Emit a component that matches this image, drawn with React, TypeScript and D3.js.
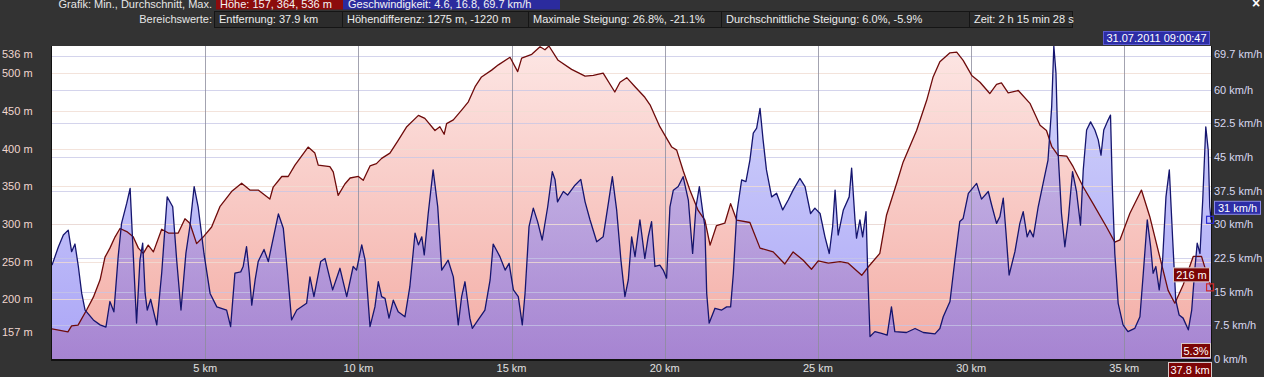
import React from "react";
import * as d3 from "d3";

// ---------- DATA ----------
const elevKm = [
  0, 0.52, 0.64, 0.85, 1.13, 1.35, 1.57, 1.73, 1.89, 2.06,
  2.22, 2.44, 2.65, 2.82, 2.98, 3.14, 3.31, 3.58, 3.80, 4.12,
  4.34, 4.50, 4.72, 4.94, 5.21, 5.48, 5.86, 6.19, 6.46, 6.73,
  7.11, 7.22, 7.50, 7.71, 7.93, 8.36, 8.58, 8.69, 9.07, 9.18,
  9.34, 9.56, 9.73, 10.00, 10.16, 10.38, 10.59, 10.76, 11.03, 11.30,
  11.58, 11.96, 12.17, 12.50, 12.66, 12.80, 12.88, 13.10, 13.37, 13.59,
  13.81, 14.02, 14.35, 14.57, 14.95, 15.20, 15.33, 15.66, 15.93, 16.09,
  16.22, 16.52, 16.96, 17.40, 17.67, 17.99, 18.37, 18.54, 18.76, 19.03,
  19.35, 19.52, 19.84, 20.23, 20.39, 20.60, 20.82, 21.09, 21.31, 21.48,
  21.69, 21.96, 22.15, 22.35, 22.78, 23.11, 23.54, 23.92, 24.19, 24.52,
  24.79, 25.01, 25.34, 25.72, 25.99, 26.43, 26.64, 27.02, 27.24, 27.57,
  27.78, 28.22, 28.55, 28.76, 28.98, 29.31, 29.53, 29.74, 30.02, 30.29,
  30.61, 30.83, 30.99, 31.21, 31.54, 31.92, 32.25, 32.46, 32.63, 32.84,
  33.12, 33.33, 33.66, 33.98, 34.42, 34.69, 34.86, 35.18, 35.56, 35.83,
  36.16, 36.43, 36.65, 36.92, 37.25, 37.52, 37.83,
];
const elevM = [
  161, 157, 165, 166, 186, 203, 226, 256, 268, 283,
  294, 290, 283, 268, 261, 272, 263, 293, 288, 288,
  307, 301, 274, 283, 296, 323, 343, 354, 345, 345,
  333, 349, 363, 363, 378, 402, 394, 378, 376, 369,
  338, 353, 361, 363, 358, 377, 380, 387, 394, 411,
  429, 444, 440, 424, 429, 419, 433, 438, 451, 462,
  482, 495, 504, 511, 521, 502, 520, 525, 535, 531,
  536, 517, 505, 496, 497, 500, 475, 488, 494, 482,
  468, 458, 429, 402, 398, 371, 345, 318, 305, 272,
  298, 301, 327, 305, 302, 268, 263, 247, 263, 252,
  240, 251, 248, 250, 248, 232, 243, 261, 312, 354,
  382, 424, 464, 495, 515, 527, 528, 517, 497, 488,
  473, 485, 487, 474, 477, 460, 431, 424, 403, 391,
  390, 376, 349, 327, 296, 276, 279, 314, 345, 310,
  256, 212, 195, 219, 257, 257, 216,
];
const speedKm = [
  0, 0.21, 0.37, 0.53, 0.64, 0.75, 0.86, 0.97, 1.08, 1.35,
  1.57, 1.76, 1.89, 2.02, 2.16, 2.27, 2.44, 2.55, 2.63, 2.76,
  2.87, 2.96, 3.04, 3.11, 3.22, 3.42, 3.58, 3.76, 3.94, 4.07,
  4.21, 4.37, 4.50, 4.64, 4.77, 4.96, 5.16, 5.38, 5.70, 5.83,
  5.97, 6.16, 6.24, 6.35, 6.44, 6.52, 6.63, 6.73, 6.92, 7.06,
  7.39, 7.55, 7.68, 7.82, 7.99, 8.31, 8.42, 8.55, 8.77, 8.91,
  9.16, 9.40, 9.62, 9.83, 9.94, 10.11, 10.22, 10.38, 10.54, 10.65,
  10.76, 10.87, 11.00, 11.14, 11.30, 11.52, 11.68, 11.85, 11.96, 12.07,
  12.15, 12.28, 12.44, 12.59, 12.72, 12.93, 13.10, 13.26, 13.37, 13.48,
  13.64, 13.72, 13.91, 14.13, 14.30, 14.40, 14.62, 14.79, 14.92, 15.06,
  15.22, 15.35, 15.44, 15.57, 15.71, 15.85, 16.00, 16.18, 16.33, 16.42,
  16.50, 16.69, 16.83, 17.07, 17.26, 17.40, 17.56, 17.78, 17.99, 18.16,
  18.29, 18.43, 18.57, 18.70, 18.81, 18.92, 19.03, 19.19, 19.35, 19.46,
  19.57, 19.68, 19.84, 19.95, 20.06, 20.17, 20.28, 20.44, 20.60, 20.77,
  20.91, 21.02, 21.13, 21.24, 21.31, 21.37, 21.45, 21.64, 21.86, 22.02,
  22.15, 22.24, 22.35, 22.51, 22.65, 22.78, 22.89, 23.00, 23.11, 23.21,
  23.32, 23.49, 23.65, 23.85, 24.03, 24.19, 24.41, 24.58, 24.76, 24.90,
  25.07, 25.23, 25.37, 25.48, 25.56, 25.66, 25.83, 26.02, 26.10, 26.21,
  26.26, 26.37, 26.46, 26.57, 26.62, 26.70, 26.86, 27.08, 27.26, 27.40,
  27.51, 27.89, 28.17, 28.44, 28.82, 28.98, 29.09, 29.31, 29.47, 29.63,
  29.74, 29.91, 30.18, 30.34, 30.56, 30.67, 30.83, 30.94, 31.05, 31.14,
  31.24, 31.43, 31.59, 31.70, 31.83, 31.92, 32.03, 32.19, 32.35, 32.51,
  32.63, 32.70, 32.77, 32.84, 32.95, 33.06, 33.17, 33.31, 33.44, 33.57,
  33.66, 33.77, 33.90, 34.04, 34.15, 34.24, 34.33, 34.47, 34.55, 34.61,
  34.69, 34.80, 34.96, 35.12, 35.34, 35.51, 35.62, 35.75, 35.86, 35.94,
  36.03, 36.14, 36.25, 36.36, 36.47, 36.58, 36.68, 36.79, 36.92, 37.09,
  37.20, 37.30, 37.38, 37.47, 37.56, 37.66, 37.74, 37.79, 37.83,
];
const speedKmh = [
  20.9, 25.0, 27.6, 28.7, 23.9, 25.6, 20.6, 14.6, 10.9, 8.7,
  7.6, 7.1, 12.8, 10.5, 22.8, 30.2, 34.7, 38.0, 26.5, 8.0,
  22.0, 25.8, 14.6, 10.9, 13.3, 7.6, 19.1, 36.1, 33.9, 22.0,
  10.9, 23.5, 29.5, 38.4, 33.9, 23.5, 14.6, 11.6, 10.9, 7.2,
  19.1, 19.4, 20.6, 25.0, 19.1, 12.0, 17.6, 21.7, 24.4, 21.7,
  32.3, 29.1, 19.8, 8.7, 10.9, 12.4, 18.3, 13.9, 21.7, 22.4,
  15.4, 20.2, 13.9, 20.6, 19.8, 25.4, 22.0, 7.2, 11.6, 17.2,
  13.9, 13.5, 9.1, 13.1, 10.5, 9.4, 16.1, 28.0, 25.4, 27.2,
  23.2, 32.4, 42.1, 33.9, 19.8, 22.0, 18.3, 7.6, 13.9, 17.2,
  9.1, 6.8, 8.7, 10.9, 17.6, 25.6, 22.8, 19.8, 21.3, 15.4,
  13.9, 7.6, 14.6, 29.5, 33.6, 30.6, 26.5, 33.9, 41.7, 39.9,
  35.0, 37.3, 36.5, 38.7, 40.0, 35.0, 31.0, 26.1, 27.2, 34.7,
  40.6, 33.2, 22.0, 13.9, 17.6, 27.2, 22.8, 31.0, 22.4, 27.2,
  30.6, 20.6, 20.9, 19.8, 18.0, 33.9, 37.6, 38.4, 40.6, 35.4,
  23.5, 33.9, 38.4, 32.8, 29.5, 14.6, 8.0, 11.3, 10.9, 11.6,
  11.6, 19.1, 32.4, 39.9, 39.5, 44.3, 50.3, 51.4, 55.8, 48.8,
  42.1, 36.1, 36.9, 33.2, 35.4, 37.6, 40.2, 38.4, 32.4, 33.6,
  32.4, 27.2, 23.5, 29.5, 37.6, 27.6, 33.2, 36.1, 42.5, 31.0,
  26.9, 31.0, 27.2, 32.8, 20.6, 5.0, 6.1, 5.7, 5.3, 11.6,
  6.1, 5.9, 6.8, 5.9, 5.6, 6.8, 9.4, 12.8, 22.0, 30.6,
  31.3, 36.9, 39.1, 35.6, 37.3, 34.3, 30.2, 31.7, 35.8, 28.0,
  18.7, 23.9, 30.2, 32.8, 27.2, 28.7, 27.2, 33.9, 39.1, 44.3,
  56.2, 69.7, 63.6, 45.8, 32.4, 25.0, 31.0, 41.7, 37.3, 29.8,
  42.1, 51.0, 52.8, 51.0, 48.8, 45.4, 51.0, 53.2, 54.3, 38.4,
  23.5, 12.4, 7.6, 6.1, 6.8, 9.4, 19.1, 31.0, 25.0, 19.1,
  20.6, 15.4, 22.0, 36.1, 42.1, 26.5, 13.1, 9.8, 9.1, 6.5,
  10.9, 19.8, 25.8, 23.5, 35.4, 51.7, 46.5, 33.9, 31.0,
];

const elevTicks = [157, 200, 250, 300, 350, 400, 450, 500, 536];
const elevGrid = [200, 250, 300, 350, 400, 450, 500];
const speedTicks = [0, 7.5, 15, 22.5, 30, 37.5, 45, 52.5, 60, 69.7];
const speedGrid = [7.5, 15, 22.5, 30, 37.5, 45, 52.5, 60, 67.5];
const kmTicks = [5, 10, 15, 20, 25, 30, 35];

const headerTitle1 = "Grafik: Min., Durchschnitt, Max.";
const headerElev = "Höhe: 157, 364, 536 m";
const headerSpeed = "Geschwindigkeit: 4.6, 16.8, 69.7 km/h";
const headerTitle2 = "Bereichswerte:";
const rangeValues = [
  "Entfernung: 37.9 km",
  "Höhendifferenz: 1275 m, -1220 m",
  "Maximale Steigung: 26.8%, -21.1%",
  "Durchschnittliche Steigung: 6.0%, -5.9%",
  "Zeit: 2 h 15 min 28 s",
];
const cursorDate = "31.07.2011 09:00:47";
const cursorKm = 37.8;
const cursorElev = 216;
const cursorSpeed = 31;
const cursorGrade = "5.3%";

// ---------- LAYOUT ----------
const W = 1264;
const H = 377;
const L = 52;
const R = 1211;
const T = 46;
const B = 359;
const FONT = "'Liberation Sans', Arial, sans-serif";

export default function App() {
  const x = d3.scaleLinear().domain([0, 37.83]).range([L, R]);
  const yE = d3.scaleLinear().domain([121, 536]).range([B, T]);
  const yS = d3.scaleLinear().domain([0, 69.7]).range([B, T]);

  const elevData = d3.zip(elevKm, elevM) as [number, number][];
  const speedData = d3.zip(speedKm, speedKmh) as [number, number][];

  const elevArea = d3.area<[number, number]>().x((d) => x(d[0])).y0(B).y1((d) => yE(d[1]));
  const elevLine = d3.line<[number, number]>().x((d) => x(d[0])).y((d) => yE(d[1]));
  const speedArea = d3.area<[number, number]>().x((d) => x(d[0])).y0(B).y1((d) => yS(d[1]));
  const speedLine = d3.line<[number, number]>().x((d) => x(d[0])).y((d) => yS(d[1]));

  const boxX = [214, 342, 528, 721, 969, 1072];

  const clampY = (y: number) => Math.max(T + 8, Math.min(B + 1, y));

  return (
    <svg
      width={W}
      height={H}
      style={{ position: "absolute", left: 0, top: 0, display: "block" }}
      fontFamily={FONT}
    >
      <defs>
        <linearGradient id="elevGrad" gradientUnits="userSpaceOnUse" x1={0} y1={T} x2={0} y2={B}>
          <stop offset="0" stopColor="#fde6e4" />
          <stop offset="1" stopColor="#f3aca4" />
        </linearGradient>
        <linearGradient id="speedGrad" gradientUnits="userSpaceOnUse" x1={0} y1={T} x2={0} y2={B}>
          <stop offset="0" stopColor="#afb4f8" stopOpacity={0.55} />
          <stop offset="1" stopColor="#7369f0" stopOpacity={0.6} />
        </linearGradient>
        <clipPath id="plotClip">
          <rect x={L} y={T} width={R - L} height={B - T} />
        </clipPath>
      </defs>

      <rect x={0} y={0} width={W} height={H} fill="#333333" />

      {/* header row 1 */}
      <text x={212} y={8} fill="#e6e6e6" fontSize={11} textAnchor="end">{headerTitle1}</text>
      <rect x={216} y={-4} width={127} height={13.5} fill="#8c0c0c" />
      <text x={220} y={8} fill="#f4f4f4" fontSize={11}>{headerElev}</text>
      <rect x={343} y={-4} width={217} height={13.5} fill="#2b2b9e" />
      <text x={348} y={8} fill="#f4f4f4" fontSize={11}>{headerSpeed}</text>
      <text x={1256} y={8} fill="#ffffff" fontSize={14} fontWeight="bold" textAnchor="middle">×</text>

      {/* header row 2 */}
      <text x={212} y={23} fill="#e6e6e6" fontSize={11} textAnchor="end">{headerTitle2}</text>
      {rangeValues.map((t, i) => (
        <g key={t}>
          <rect
            x={boxX[i] + 0.5}
            y={11.5}
            width={boxX[i + 1] - boxX[i]}
            height={16}
            fill="#2c2c2c"
            stroke="#151515"
          />
          <text x={boxX[i] + 5} y={23} fill="#ececec" fontSize={11}>{t}</text>
        </g>
      ))}

      {/* plot background */}
      <rect x={L} y={T} width={R - L} height={B - T} fill="#ffffff" />

      <g clipPath="url(#plotClip)">
        <path d={elevArea(elevData) || ""} fill="url(#elevGrad)" />
        <path d={speedArea(speedData) || ""} fill="url(#speedGrad)" />

        {speedGrid.map((v) => (
          <line key={"sg" + v} x1={L} x2={R} y1={Math.round(yS(v)) + 0.5} y2={Math.round(yS(v)) + 0.5}
            stroke="#c6c6e6" strokeOpacity={0.75} />
        ))}
        {elevGrid.map((v) => (
          <line key={"eg" + v} x1={L} x2={R} y1={Math.round(yE(v)) + 0.5} y2={Math.round(yE(v)) + 0.5}
            stroke="#f0dcd2" strokeOpacity={0.8} />
        ))}
        {kmTicks.map((k) => (
          <line key={"vg" + k} x1={Math.round(x(k)) + 0.5} x2={Math.round(x(k)) + 0.5} y1={T} y2={B}
            stroke="#8c8c9c" strokeOpacity={0.8} />
        ))}

        <path d={elevLine(elevData) || ""} fill="none" stroke="#6e0b0b" strokeWidth={1.3} strokeLinejoin="round" />
        <path d={speedLine(speedData) || ""} fill="none" stroke="#15156e" strokeWidth={1.3} strokeLinejoin="round" />
      </g>

      {/* plot border */}
      <line x1={L - 0.5} x2={L - 0.5} y1={T} y2={B + 1} stroke="#111" />
      <line x1={R + 0.5} x2={R + 0.5} y1={T} y2={B + 1} stroke="#111" />
      <line x1={L - 1} x2={R + 1} y1={B + 1} y2={B + 1} stroke="#111" strokeWidth={2} />

      {/* left axis labels */}
      {elevTicks.map((v) => (
        <text key={"el" + v} x={2} y={clampY(yE(v)) + 4} fill="#f0d6cf" fontSize={11}>{`${v} m`}</text>
      ))}
      {/* right axis labels */}
      {speedTicks.map((v) => (
        <text key={"sl" + v} x={1214} y={clampY(yS(v)) + 4} fill="#d8d8f0" fontSize={11}>{`${v} km/h`}</text>
      ))}
      {/* bottom axis labels */}
      {kmTicks.map((k) => (
        <text key={"kl" + k} x={x(k)} y={372} fill="#e0e0e0" fontSize={11} textAnchor="middle">{`${k} km`}</text>
      ))}

      {/* cursor info */}
      <rect x={1103.5} y={31.5} width={106} height={13} fill="#2d2da6" stroke="#5a5ad0" />
      <text x={1156.5} y={42} fill="#ffffff" fontSize={11} textAnchor="middle">{cursorDate}</text>

      <rect x={x(cursorKm) - 3.5} y={yS(cursorSpeed) - 3.5} width={7} height={7} fill="none" stroke="#2a2ad0" strokeWidth={1.2} />
      <rect x={1214.5} y={yS(cursorSpeed) - 18.5} width={46} height={13} fill="#2d2da6" stroke="#8a8ae8" />
      <text x={1218} y={yS(cursorSpeed) - 8} fill="#ffffff" fontSize={11}>{`${cursorSpeed} km/h`}</text>

      <rect x={x(cursorKm) - 3.5} y={yE(cursorElev) - 3.5} width={7} height={7} fill="none" stroke="#d02a2a" strokeWidth={1.2} />
      <rect x={1173.5} y={yE(cursorElev) - 19.5} width={36} height={14} fill="#7c0606" stroke="#d8c8c8" />
      <text x={1191.5} y={yE(cursorElev) - 8.5} fill="#ffffff" fontSize={11} textAnchor="middle">{`${cursorElev} m`}</text>

      <rect x={1181.5} y={343.5} width={29} height={14} fill="#7c0606" stroke="#d8c8c8" />
      <text x={1196} y={354.5} fill="#ffffff" fontSize={11} textAnchor="middle">{cursorGrade}</text>

      <rect x={1168.5} y={362.5} width={43} height={15} fill="#7c0606" stroke="#d8c8c8" />
      <text x={1190} y={373.5} fill="#ffffff" fontSize={11} textAnchor="middle">{`${cursorKm} km`}</text>
    </svg>
  );
}
